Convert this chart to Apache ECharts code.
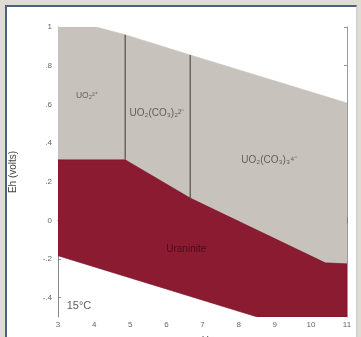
<!DOCTYPE html>
<html>
<head>
<meta charset="utf-8">
<script src="https://cdn.jsdelivr.net/npm/echarts@6/dist/echarts.min.js"></script>
<style>
  html, body { margin: 0; padding: 0; width: 361px; height: 337px; overflow: hidden; background: #dfdcd4; }
  #panel { position: absolute; left: 5px; top: 5px; width: 349px; height: 340px; background: #ffffff;
           border-left: 2px solid #50607c; border-top: 2px solid #50607c; border-right: 1px solid #c9ccd2; }
  #chart { position: absolute; left: 0; top: 0; width: 361px; height: 337px; }
</style>
</head>
<body>
<div id="panel"></div>
<div id="chart"></div>
<script>
// ---- data (pH, Eh in volts) ----
const xTicks = [3, 4, 5, 6, 7, 8, 9, 10, 11];
const yTicks = [-0.4, -0.2, 0, 0.2, 0.4, 0.6, 0.8, 1];
const yTickLabels = ['-.4', '-.2', '0', '.2', '.4', '.6', '.8', '1'];

// aqueous uranyl field (grey), bounded by water-oxidation line and uraninite field
const aqueousField = [[3, 1], [4.05, 1], [4.86, 0.96], [6.66, 0.855], [11, 0.607],
                      [11, -0.225], [10.4, -0.22], [6.66, 0.115], [4.86, 0.313], [3, 0.313]];
// uraninite field (dark red), bounded below by water-reduction line
const uraniniteField = [[3, 0.313], [4.86, 0.313], [6.66, 0.115], [10.4, -0.22], [11, -0.225],
                        [11, -0.5], [8.52, -0.5], [3, -0.183]];
// boundaries between the aqueous species
const boundaryA = [[4.86, 0.96], [4.86, 0.313]];
const boundaryB = [[6.66, 0.855], [6.66, 0.115]];

const firstSpecies = ['UO₂²⁺'];
const firstAt = [[3.8, 0.644]];
const carbonateSpecies = ['UO₂(CO₃)₂²⁻', 'UO₂(CO₃)₃⁴⁻'];
const carbonateAt = [[5.74, 0.556], [8.85, 0.313]];
const solidName = ['Uraninite'];
const solidAt = [[6.55, -0.147]];
const tempNote = ['15°C'];
const tempAt = [[3.58, -0.441]];

const chart = echarts.init(document.getElementById('chart'), null, { renderer: 'canvas' });

function polygonSeries(points, fill, stroke) {
  return {
    type: 'custom',
    xAxisIndex: 0, yAxisIndex: 0,
    clip: true,
    silent: true,
    data: [0],
    renderItem: function (params, api) {
      return {
        type: 'polygon',
        shape: { points: points.map(function (p) { return api.coord(p); }) },
        style: { fill: fill, stroke: stroke, lineWidth: 0.6 }
      };
    }
  };
}

function textSeries(names, at, color, size, weight) {
  return {
    type: 'scatter',
    xAxisIndex: 0, yAxisIndex: 0,
    symbolSize: 0,
    silent: true,
    data: at.map(function (p, i) { return { value: p, name: names[i] }; }),
    label: {
      show: true, position: 'inside',
      formatter: function (d) { return d.name; },
      color: color, fontSize: size, fontWeight: weight,
      fontFamily: 'Liberation Sans, Arial, sans-serif'
    }
  };
}

const tickStyle = { show: true, inside: true, length: 3, lineStyle: { color: '#777', width: 0.8 } };
const axisLineStyle = { show: true, lineStyle: { color: '#8a8a8a', width: 1 } };

const option = {
  animation: false,
  backgroundColor: 'transparent',
  grid: { left: 58, top: 27, right: 14, bottom: 20, show: false, outerBoundsMode: 'none', containLabel: false },
  xAxis: [
    {
      type: 'value', min: 3, max: 11, interval: 1, position: 'bottom',
      name: 'pH', nameLocation: 'middle', nameGap: 19,
      nameTextStyle: { color: '#444', fontSize: 10, fontFamily: 'Liberation Sans, Arial, sans-serif' },
      axisLine: axisLineStyle, axisTick: tickStyle, splitLine: { show: false },
      axisLabel: { color: '#666', fontSize: 8, margin: 4, fontFamily: 'Liberation Sans, Arial, sans-serif',
                   customValues: xTicks }
    },
    {
      type: 'value', min: 3, max: 11, interval: 1, position: 'top',
      axisLine: { show: true, lineStyle: { color: '#b5b5b5', width: 1 } },
      axisTick: Object.assign({}, tickStyle, { customValues: xTicks }),
      axisLabel: { show: false }, splitLine: { show: false }
    }
  ],
  yAxis: [
    {
      type: 'value', min: -0.5, max: 1, interval: 0.5, position: 'left',
      name: 'Eh (volts)', nameLocation: 'middle', nameGap: 40, nameRotate: 90,
      nameTextStyle: { color: '#444', fontSize: 10, fontFamily: 'Liberation Sans, Arial, sans-serif' },
      axisLine: axisLineStyle,
      axisTick: Object.assign({}, tickStyle, { customValues: yTicks }),
      splitLine: { show: false },
      axisLabel: {
        color: '#666', fontSize: 8, margin: 6, fontFamily: 'Liberation Sans, Arial, sans-serif',
        customValues: yTicks,
        formatter: function (v) {
          const i = yTicks.findIndex(function (t) { return Math.abs(t - v) < 1e-6; });
          return i >= 0 ? yTickLabels[i] : '';
        }
      }
    },
    {
      type: 'value', min: -0.5, max: 1, interval: 0.5, position: 'right',
      axisLine: { show: true, lineStyle: { color: '#9a9a9a', width: 1 } },
      axisTick: Object.assign({}, tickStyle, { customValues: yTicks }),
      axisLabel: { show: false }, splitLine: { show: false }
    }
  ],
  series: [
    polygonSeries(aqueousField, '#c8c2bc', '#c8c2bc'),
    polygonSeries(uraniniteField, '#8a1b31', '#7a1628'),
    {
      type: 'line', xAxisIndex: 0, yAxisIndex: 0, data: boundaryA, symbol: 'none', silent: true,
      lineStyle: { color: '#5a5656', width: 1.3 }
    },
    {
      type: 'line', xAxisIndex: 0, yAxisIndex: 0, data: boundaryB, symbol: 'none', silent: true,
      lineStyle: { color: '#5a5656', width: 1.3 }
    },
    textSeries(firstSpecies, firstAt, '#4a4646', 8.5, 'normal'),
    textSeries(carbonateSpecies, carbonateAt, '#4a4646', 10, 'normal'),
    textSeries(solidName, solidAt, '#3c0a14', 10, 'normal'),
    textSeries(tempNote, tempAt, '#333', 11, 'normal')
  ]
};

chart.setOption(option);
</script>
</body>
</html>
